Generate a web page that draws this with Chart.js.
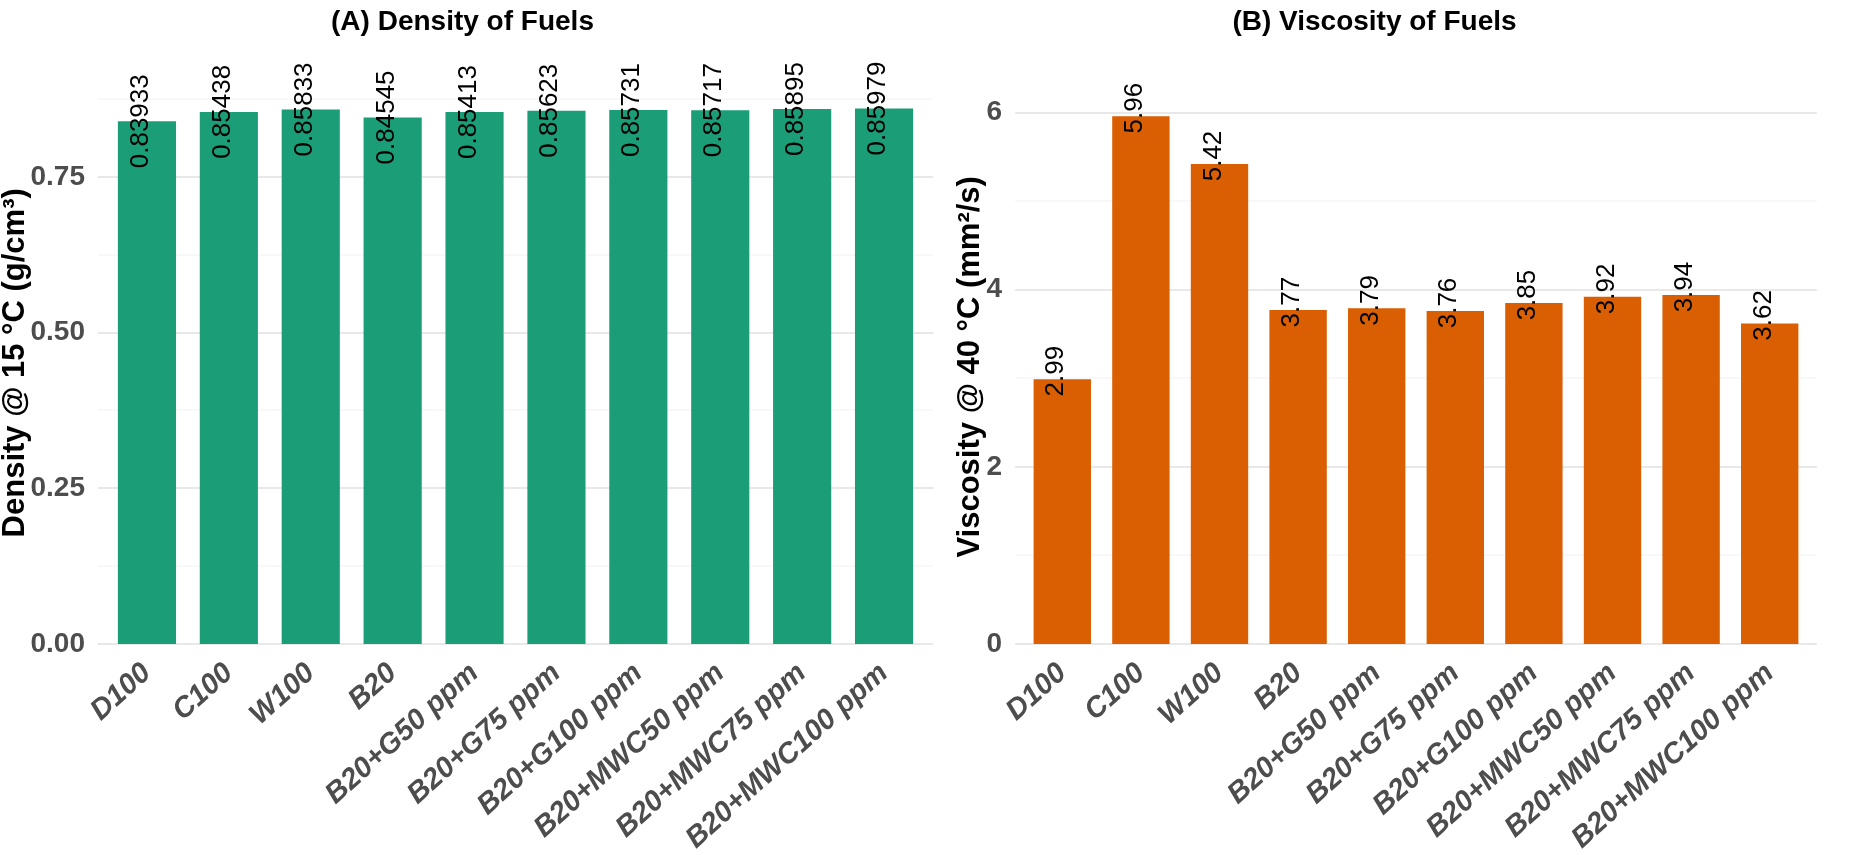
<!DOCTYPE html>
<html>
<head>
<meta charset="utf-8">
<script src="https://cdn.jsdelivr.net/npm/chart.js@4"></script>
<style>
  html, body { margin: 0; padding: 0; background: #fff; }
  .panel { position: absolute; top: 0; height: 855px; }
  #wrapA { left: 0; width: 940px; }
  #wrapB { left: 940px; width: 915px; }
</style>
</head>
<body>
<div class="panel" id="wrapA"><canvas id="density"></canvas></div>
<div class="panel" id="wrapB"><canvas id="viscosity"></canvas></div>
<script>
const fuels = ['D100', 'C100', 'W100', 'B20', 'B20+G50 ppm', 'B20+G75 ppm', 'B20+G100 ppm',
    'B20+MWC50 ppm', 'B20+MWC75 ppm', 'B20+MWC100 ppm'];
const density = [0.83933, 0.85438, 0.85833, 0.84545, 0.85413, 0.85623, 0.85731, 0.85717, 0.85895, 0.85979];
const viscosity = [2.99, 5.96, 5.42, 3.77, 3.79, 3.76, 3.85, 3.92, 3.94, 3.62];
const densityTicks = [0, 0.25, 0.5, 0.75];
const viscosityTicks = [0, 2, 4, 6];

const narrow = "'Liberation Sans Narrow', 'Liberation Sans', Arial, sans-serif";
const sans = "'Liberation Sans', Arial, sans-serif";

// ggplot-style panel grid: runs a little past the outer bars
const panelGrid = {
    id: 'panelGrid',
    beforeDatasetsDraw(chart, args, opts) {
        const { ctx, chartArea } = chart;
        const y = chart.scales.y;
        const ext = 0.1 * chartArea.width / chart.data.labels.length;
        ctx.save();
        y.ticks.forEach(t => {
            const py = Math.round(y.getPixelForValue(t.value));
            const major = opts.majors.some(m => Math.abs(m - t.value) < 1e-9);
            ctx.strokeStyle = major ? '#e8e8e8' : '#f2f2f2';
            ctx.lineWidth = major ? 2 : 1.2;
            ctx.beginPath();
            ctx.moveTo(chartArea.left - ext, py);
            ctx.lineTo(chartArea.right + ext, py);
            ctx.stroke();
        });
        ctx.restore();
    }
};

// value labels, rotated, sitting on the bar top
const barLabels = {
    id: 'barLabels',
    afterDatasetsDraw(chart, args, opts) {
        const ctx = chart.ctx;
        const meta = chart.getDatasetMeta(0);
        const values = chart.data.datasets[0].data;
        ctx.save();
        ctx.fillStyle = '#000';
        ctx.font = '26px ' + sans;
        ctx.textAlign = 'center';
        ctx.textBaseline = 'alphabetic';
        meta.data.forEach((bar, i) => {
            ctx.save();
            ctx.translate(bar.x + 1, bar.y - opts.lift);
            ctx.rotate(-Math.PI / 2);
            ctx.fillText(String(values[i]), 0, 0);
            ctx.restore();
        });
        ctx.restore();
    }
};

function renderPanel(id, title, values, color, majors, yMax, yTitle, fmt, sizes) {
    const step = majors[1] - majors[0];
    const gridVals = [];
    majors.forEach(v => { gridVals.push(v); gridVals.push(v + step / 2); });
    const shown = gridVals.filter(v => v <= yMax);
    const isMajor = v => majors.some(m => Math.abs(m - v) < 1e-9);
    new Chart(document.getElementById(id), {
        type: 'bar',
        data: {
            labels: fuels,
            datasets: [{
                data: values,
                backgroundColor: color,
                borderWidth: 0,
                barPercentage: sizes.bar,
                categoryPercentage: 1
            }]
        },
        options: {
            responsive: true,
            maintainAspectRatio: false,
            animation: false,
            layout: { padding: { left: 0, right: sizes.right, top: 0, bottom: 0 } },
            plugins: {
                legend: { display: false },
                tooltip: { enabled: false },
                title: {
                    display: true,
                    text: title,
                    color: '#000',
                    font: { family: narrow, size: 28, weight: 'bold', lineHeight: 1.2 },
                    padding: { top: 5, bottom: sizes.titleGap }
                },
                barLabels: { lift: sizes.lift },
                panelGrid: { majors: majors }
            },
            scales: {
                x: {
                    grid: { display: false },
                    border: { display: false },
                    ticks: {
                        color: '#4d4d4d',
                        font: { family: sans, size: 29, weight: 'bold', style: 'italic' },
                        maxRotation: 42,
                        minRotation: 42,
                        padding: 4,
                        autoSkip: false
                    },
                    afterFit: s => { s.height = 211; }
                },
                y: {
                    min: 0,
                    max: yMax,
                    border: { display: false },
                    grid: { display: false, drawTicks: false },
                    afterBuildTicks: s => { s.ticks = shown.map(v => ({ value: v })); },
                    ticks: {
                        color: '#4d4d4d',
                        padding: 21,
                        font: { family: narrow, size: 28, weight: 'bold' },
                        callback: v => isMajor(v) ? fmt(v) : ''
                    },
                    title: {
                        display: true,
                        text: yTitle,
                        color: '#000',
                        font: { family: sans, size: 31, weight: 'bold', lineHeight: 1 },
                        padding: { top: sizes.yTitlePad, bottom: 0 }
                    },
                    afterFit: s => { s.width = sizes.yWidth; }
                }
            }
        },
        plugins: [panelGrid, barLabels]
    });
}

renderPanel('density', '(A) Density of Fuels', density, '#1b9e77', densityTicks, 0.903,
    'Density @ 15 °C (g/cm³)', v => v.toFixed(2),
    { right: 15, titleGap: 43, lift: 0, yWidth: 106, yTitlePad: 0, bar: 0.71 });
renderPanel('viscosity', '(B) Viscosity of Fuels', viscosity, '#d95f02', viscosityTicks, 6.26,
    'Viscosity @ 40 °C (mm²/s)', v => String(v),
    { right: 46, titleGap: 51, lift: 8, yWidth: 83, yTitlePad: 15, bar: 0.73 });
</script>
</body>
</html>
